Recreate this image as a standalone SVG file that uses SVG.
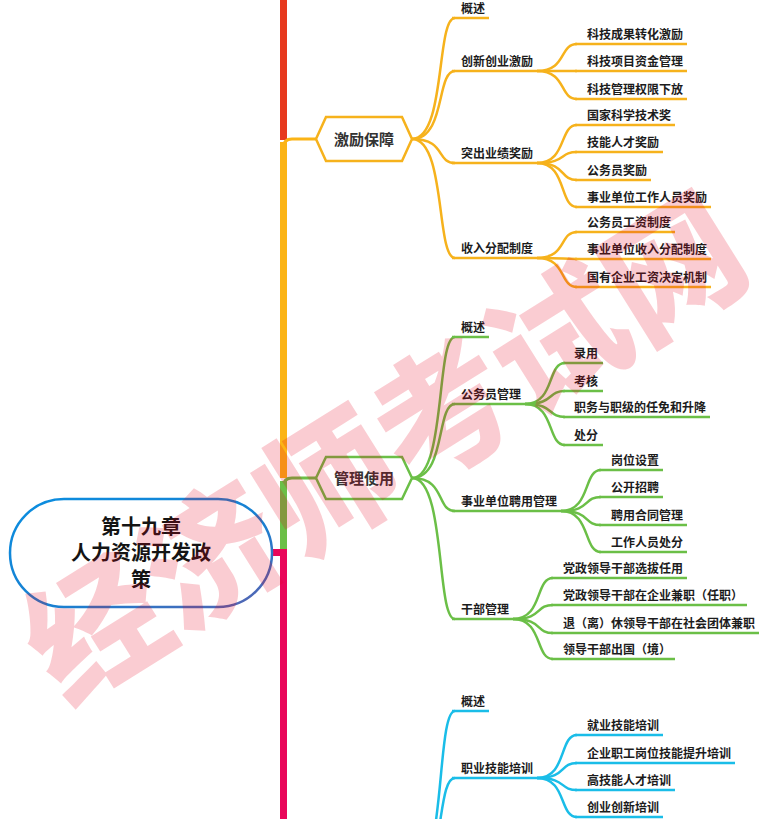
<svg xmlns="http://www.w3.org/2000/svg" width="764" height="819" viewBox="0 0 764 819">
<defs>
<style>
.t{font-family:"Noto Sans CJK SC","Microsoft YaHei",sans-serif;font-weight:bold;font-size:12px;fill:#1c1c1c}
.h{font-family:"Noto Sans CJK SC","Microsoft YaHei",sans-serif;font-weight:bold;font-size:15px;fill:#333;text-anchor:middle}
.r{font-family:"Noto Sans CJK SC","Microsoft YaHei",sans-serif;font-weight:bold;font-size:20px;fill:#141414;text-anchor:middle}
.o{stroke:#F6B21C;fill:none;stroke-width:2.5}
.g{stroke:#6BBF47;fill:none;stroke-width:2.5}
.c{stroke:#1ABDE8;fill:none;stroke-width:2.5}
.hx{fill:#fff;stroke-width:2.5}
.tr{fill:none;stroke-width:7}
.wm{font-family:"Noto Sans CJK SC",sans-serif;font-weight:900;font-size:136px;fill:#E8001C;fill-opacity:0.2;text-anchor:middle;dominant-baseline:central}
</style>
<linearGradient id="cg" x1="0" y1="0" x2="1" y2="1">
<stop offset="0" stop-color="#0A8EE0"/>
<stop offset="0.6" stop-color="#1A7FD0"/>
<stop offset="1" stop-color="#5A62B0"/>
</linearGradient>
</defs>

<g id="connectors">
<!-- trunk -->
<line class="tr" x1="283.5" y1="0" x2="283.5" y2="140" stroke="#E7391E"/>
<line class="tr" x1="283.5" y1="142" x2="283.5" y2="478" stroke="#FBB416"/>
<path d="M283.5,147 Q283.5,139 292,139 H316" fill="none" stroke="#FBB416" stroke-width="3"/>
<line class="tr" x1="283.5" y1="481" x2="283.5" y2="549" stroke="#6BBF47"/>
<path d="M283.5,486 Q283.5,478 292,478 H316" fill="none" stroke="#6BBF47" stroke-width="3"/>
<path d="M271,552.5 H283.5 V819" class="tr" stroke="#E9075A"/>
<!-- orange level 1 -->
<path class="o" d="M412,139 C446,139 436,18 455,18"/>
<path class="o" d="M412,139 C446,139 436,71 455,71"/>
<path class="o" d="M412,139 C446,139 436,163 455,163"/>
<path class="o" d="M412,139 C446,139 436,258 455,258"/>
<!-- orange level 2 -->
<path class="o" d="M537,71 C567,71 559,44 577,44"/>
<path class="o" d="M537,71 H577"/>
<path class="o" d="M537,71 C567,71 559,99 577,99"/>
<path class="o" d="M537,163 C567,163 559,125 577,125"/>
<path class="o" d="M537,163 C567,163 559,152 577,152"/>
<path class="o" d="M537,163 C567,163 559,180 577,180"/>
<path class="o" d="M537,163 C567,163 559,207 577,207"/>
<path class="o" d="M537,258 C567,258 559,232 577,232"/>
<path class="o" d="M537,258 C567,258 559,259 577,259"/>
<path class="o" d="M537,258 C567,258 559,287 577,287"/>
<!-- green level 1 -->
<path class="g" d="M412,478 C446,478 436,337 455,337"/>
<path class="g" d="M412,478 C446,478 436,404 455,404"/>
<path class="g" d="M412,478 C446,478 436,511 455,511"/>
<path class="g" d="M412,478 C446,478 436,619 455,619"/>
<!-- green level 2 -->
<path class="g" d="M525,404 C555,404 547,363 565,363"/>
<path class="g" d="M525,404 C555,404 547,391 565,391"/>
<path class="g" d="M525,404 C555,404 547,417 565,417"/>
<path class="g" d="M525,404 C555,404 547,445 565,445"/>
<path class="g" d="M561,511 C591,511 583,470 601,470"/>
<path class="g" d="M561,511 C591,511 583,497 601,497"/>
<path class="g" d="M561,511 C591,511 583,525 601,525"/>
<path class="g" d="M561,511 C591,511 583,552 601,552"/>
<path class="g" d="M513,619 C543,619 535,578 553,578"/>
<path class="g" d="M513,619 C543,619 535,605 553,605"/>
<path class="g" d="M513,619 C543,619 535,633 553,633"/>
<path class="g" d="M513,619 C543,619 535,659 553,659"/>
<!-- cyan level 1 -->
<path class="c" d="M412,877 C446,877 436,711 455,711"/>
<path class="c" d="M412,877 C446,877 436,778 455,778"/>
<!-- cyan level 2 -->
<path class="c" d="M537,778 C567,778 559,735 577,735"/>
<path class="c" d="M537,778 C567,778 559,763 577,763"/>
<path class="c" d="M537,778 C567,778 559,790 577,790"/>
<path class="c" d="M537,778 C567,778 559,817 577,817"/>
</g>

<g id="root">
<rect x="10" y="499" width="262" height="108" rx="54" fill="#fff" stroke="url(#cg)" stroke-width="2.5"/>
<text class="r" x="141" y="534">第十九章</text>
<text class="r" x="141" y="560">人力资源开发政</text>
<text class="r" x="141" y="587">策</text>
</g>

<g id="n-jili">
<polygon class="hx" stroke="#F6B21C" points="316,139 326,117 402,117 412,139 402,161 326,161"/>
<text class="h" x="364" y="144.5">激励保障</text>
</g>
<g id="n-guanli">
<polygon class="hx" stroke="#6BBF47" points="316,478 326,457 402,457 412,478 402,499 326,499"/>
<text class="h" x="364" y="483.5">管理使用</text>
</g>

<!-- orange subtopics -->
<g id="n-o-gaishu"><path class="o" d="M452,18 H489"/><text class="t" x="461" y="13">概述</text></g>
<g id="n-o-chuangxin"><path class="o" d="M452,71 H537"/><text class="t" x="461" y="66">创新创业激励</text></g>
<g id="n-o-tuchu"><path class="o" d="M452,163 H537"/><text class="t" x="461" y="158">突出业绩奖励</text></g>
<g id="n-o-shouru"><path class="o" d="M452,258 H537"/><text class="t" x="461" y="253">收入分配制度</text></g>
<g id="n-o-1"><path class="o" d="M575,44 H687"/><text class="t" x="587" y="39">科技成果转化激励</text></g>
<g id="n-o-2"><path class="o" d="M575,71 H687"/><text class="t" x="587" y="66">科技项目资金管理</text></g>
<g id="n-o-3"><path class="o" d="M575,99 H687"/><text class="t" x="587" y="94">科技管理权限下放</text></g>
<g id="n-o-4"><path class="o" d="M575,125 H675"/><text class="t" x="587" y="120">国家科学技术奖</text></g>
<g id="n-o-5"><path class="o" d="M575,152 H663"/><text class="t" x="587" y="147">技能人才奖励</text></g>
<g id="n-o-6"><path class="o" d="M575,180 H651"/><text class="t" x="587" y="175">公务员奖励</text></g>
<g id="n-o-7"><path class="o" d="M575,207 H711"/><text class="t" x="587" y="202">事业单位工作人员奖励</text></g>
<g id="n-o-8"><path class="o" d="M575,232 H675"/><text class="t" x="587" y="227">公务员工资制度</text></g>
<g id="n-o-9"><path class="o" d="M575,259 H711"/><text class="t" x="587" y="254">事业单位收入分配制度</text></g>
<g id="n-o-10"><path class="o" d="M575,287 H711"/><text class="t" x="587" y="282">国有企业工资决定机制</text></g>

<!-- green subtopics -->
<g id="n-g-gaishu"><path class="g" d="M452,337 H489"/><text class="t" x="461" y="332">概述</text></g>
<g id="n-g-gwy"><path class="g" d="M452,404 H525"/><text class="t" x="461" y="399">公务员管理</text></g>
<g id="n-g-sydw"><path class="g" d="M452,511 H561"/><text class="t" x="461" y="506">事业单位聘用管理</text></g>
<g id="n-g-gb"><path class="g" d="M452,619 H513"/><text class="t" x="461" y="614">干部管理</text></g>
<g id="n-g-1"><path class="g" d="M563,363 H603"/><text class="t" x="574" y="358">录用</text></g>
<g id="n-g-2"><path class="g" d="M563,391 H603"/><text class="t" x="574" y="386">考核</text></g>
<g id="n-g-3"><path class="g" d="M563,417 H710"/><text class="t" x="574" y="412">职务与职级的任免和升降</text></g>
<g id="n-g-4"><path class="g" d="M563,445 H603"/><text class="t" x="574" y="440">处分</text></g>
<g id="n-g-5"><path class="g" d="M599,470 H663"/><text class="t" x="611" y="465">岗位设置</text></g>
<g id="n-g-6"><path class="g" d="M599,497 H663"/><text class="t" x="611" y="492">公开招聘</text></g>
<g id="n-g-7"><path class="g" d="M599,525 H687"/><text class="t" x="611" y="520">聘用合同管理</text></g>
<g id="n-g-8"><path class="g" d="M599,552 H687"/><text class="t" x="611" y="547">工作人员处分</text></g>
<g id="n-g-9"><path class="g" d="M551,578 H687"/><text class="t" x="563" y="573">党政领导干部选拔任用</text></g>
<g id="n-g-10"><path class="g" d="M551,605 H747"/><text class="t" x="563" y="600">党政领导干部在企业兼职（任职）</text></g>
<g id="n-g-11"><path class="g" d="M551,633 H759"/><text class="t" x="563" y="628">退（离）休领导干部在社会团体兼职</text></g>
<g id="n-g-12"><path class="g" d="M551,659 H675"/><text class="t" x="563" y="654">领导干部出国（境）</text></g>

<!-- cyan subtopics -->
<g id="n-c-gaishu"><path class="c" d="M452,711 H489"/><text class="t" x="461" y="706">概述</text></g>
<g id="n-c-zyjn"><path class="c" d="M452,778 H537"/><text class="t" x="461" y="773">职业技能培训</text></g>
<g id="n-c-1"><path class="c" d="M575,735 H663"/><text class="t" x="587" y="730">就业技能培训</text></g>
<g id="n-c-2"><path class="c" d="M575,763 H735"/><text class="t" x="587" y="758">企业职工岗位技能提升培训</text></g>
<g id="n-c-3"><path class="c" d="M575,790 H675"/><text class="t" x="587" y="785">高技能人才培训</text></g>
<g id="n-c-4"><path class="c" d="M575,817 H663"/><text class="t" x="587" y="812">创业创新培训</text></g>

<g id="watermark">
<text class="wm" x="380" y="440" transform="rotate(-32 380 440)">经济师考试网</text>
</g>
</svg>
